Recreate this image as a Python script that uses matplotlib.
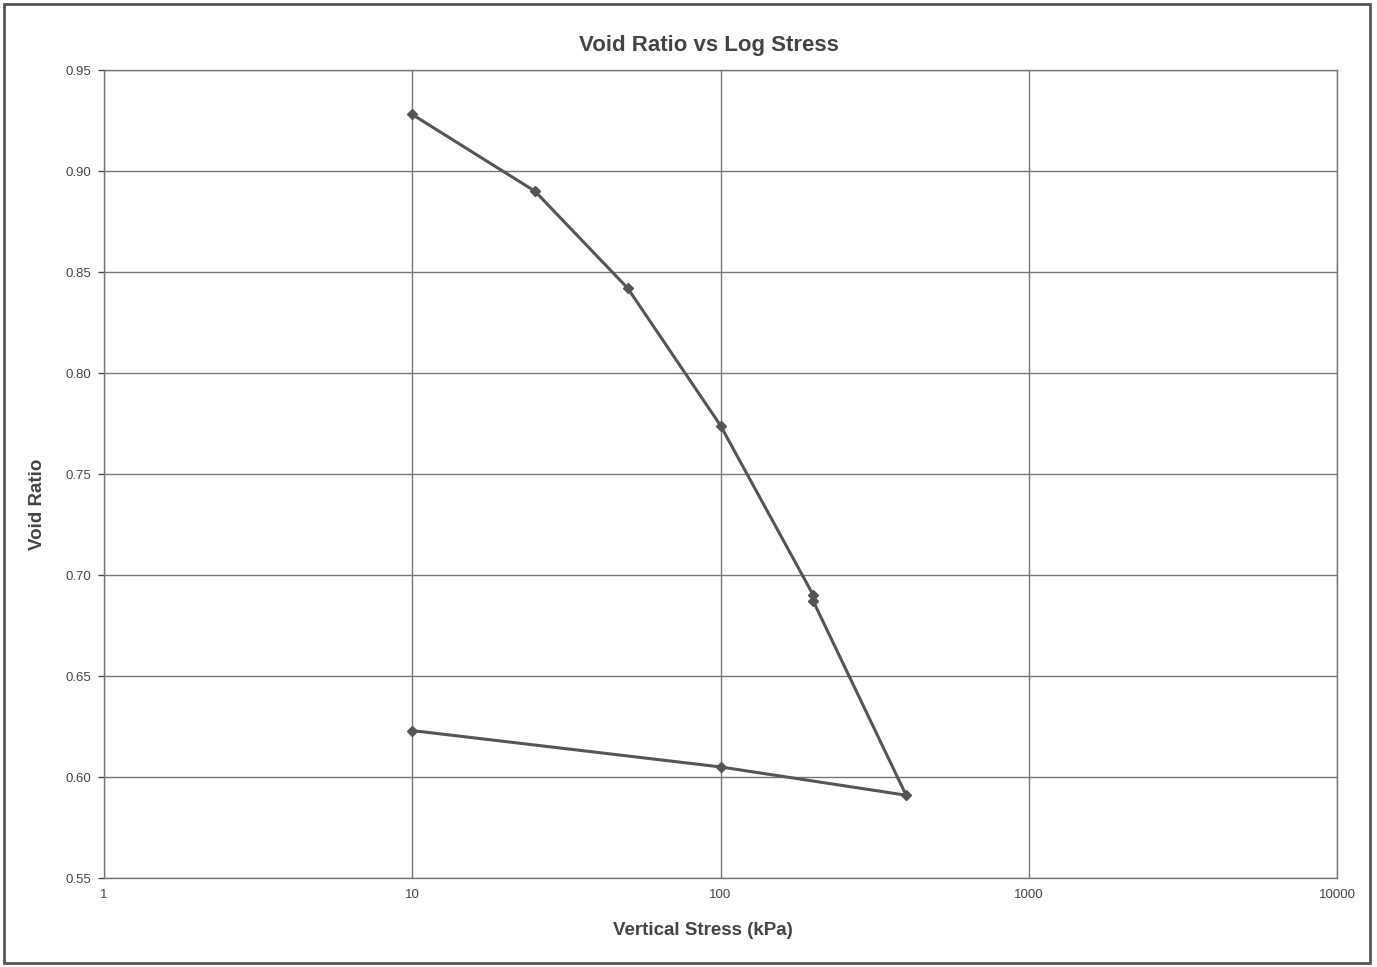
import numpy as np
import matplotlib
matplotlib.use("Agg")
import matplotlib.pyplot as plt
from matplotlib.ticker import FixedLocator, FixedFormatter

plt.rcParams['font.family'] = ['Liberation Sans', 'DejaVu Sans']

# consolidation test data (loading then unloading)
stress = [10, 25, 50, 100, 200, 200, 400, 100, 10]
void_ratio = [0.928, 0.890, 0.842, 0.774, 0.690, 0.687, 0.591, 0.605, 0.623]

x_ticks = [1, 10, 100, 1000, 10000]
x_labels = ['1', '10', '100', '1000', '10000']
y_ticks = [0.55, 0.60, 0.65, 0.70, 0.75, 0.80, 0.85, 0.90, 0.95]

fig = plt.figure(figsize=(13.77, 9.67), dpi=100)
ax = fig.add_axes([0.0755, 0.092, 0.8955, 0.8356])

ax.plot(stress, void_ratio, color='#555555', lw=2.2, marker='D', ms=5,
        mfc='#555555', mec='#555555', zorder=3)

ax.set_xscale('log')
ax.set_xlim(1, 10000)
ax.set_ylim(0.55, 0.95)
ax.xaxis.set_major_locator(FixedLocator(x_ticks))
ax.xaxis.set_major_formatter(FixedFormatter(x_labels))
ax.xaxis.set_minor_locator(FixedLocator([]))
ax.set_yticks(y_ticks)
ax.set_yticklabels(['%.2f' % v for v in y_ticks])

ax.grid(True, color='#777777', lw=1.0)
ax.set_axisbelow(True)
for s in ax.spines.values():
    s.set_color('#777777')
    s.set_linewidth(1.0)
ax.tick_params(axis='both', labelsize=9.5, colors='#444444', length=4,
               width=1, pad=5)
ax.tick_params(axis='x', length=0, pad=8)

ax.set_title('Void Ratio vs Log Stress', fontsize=16, fontweight='bold',
             color='#444444', pad=14, x=0.491)
ax.set_xlabel('Vertical Stress (kPa)', fontsize=13.5, fontweight='bold',
              color='#444444')
ax.xaxis.set_label_coords(0.486, -0.0545)
ax.set_ylabel('Void Ratio', fontsize=13.5, fontweight='bold',
              color='#444444')
ax.yaxis.set_label_coords(-0.047, 0.462)

# outer chart border
fig.patches.append(plt.Rectangle((0.003, 0.004), 0.992, 0.992,
                                 transform=fig.transFigure, fill=False,
                                 edgecolor='#555555', lw=2))

fig.savefig('out.png', dpi=100)
